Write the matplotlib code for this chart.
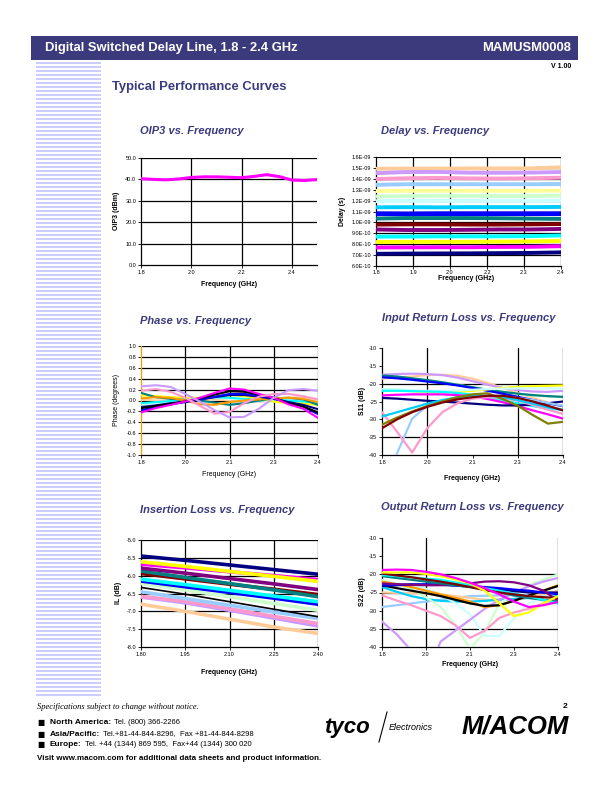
import matplotlib
matplotlib.use("Agg")
import matplotlib.pyplot as plt
from matplotlib.patches import Rectangle
from matplotlib.lines import Line2D
from matplotlib.ticker import FuncFormatter

plt.rcParams['font.family'] = ['Liberation Sans', 'DejaVu Sans']

# Excel default series colours
NAVY, MAGENTA, YELLOW, CYAN = '#000080', '#ff00ff', '#ffff00', '#00ffff'
PURPLE, DKRED, TEAL, BLUE = '#800080', '#800000', '#008080', '#0000ff'
SKY, LCYAN, LGREEN, LYELLOW = '#00ccff', '#ccffff', '#ccffcc', '#ffff99'
LBLUE, PINK, LAV, PEACH = '#99ccff', '#ff99cc', '#cc99ff', '#ffcc99'
BLACK, ORANGE, OLIVE = '#000000', '#ff9900', '#808000'

# ---------------- data ----------------
OIP3_FREQ = [1.8, 1.85, 1.9, 1.95, 2.0, 2.05, 2.1, 2.15, 2.2, 2.25, 2.3, 2.35, 2.4, 2.45, 2.5]
OIP3 = [40.3, 40.0, 39.8, 40.2, 40.9, 41.2, 41.2, 41.0, 40.8, 41.4, 42.2, 41.3, 39.7, 39.5, 39.9]

DELAY_FREQ = [1.8, 1.9, 2.0, 2.1, 2.2, 2.3, 2.4]
DELAY_NS = {
    PEACH:   [1.492, 1.494, 1.494, 1.495, 1.495, 1.496, 1.505],
    LAV:     [1.452, 1.462, 1.463, 1.456, 1.455, 1.457, 1.462],
    PINK:    [1.398, 1.405, 1.408, 1.404, 1.402, 1.405, 1.410],
    LBLUE:   [1.345, 1.350, 1.350, 1.350, 1.350, 1.350, 1.352],
    LYELLOW: [1.288, 1.290, 1.291, 1.290, 1.290, 1.290, 1.292],
    LGREEN:  [1.238, 1.242, 1.245, 1.243, 1.242, 1.242, 1.245],
    LCYAN:   [1.195, 1.198, 1.198, 1.198, 1.198, 1.198, 1.200],
    SKY:     [1.138, 1.140, 1.138, 1.140, 1.140, 1.140, 1.142],
    BLUE:    [1.080, 1.078, 1.080, 1.080, 1.080, 1.080, 1.080],
    TEAL:    [1.035, 1.040, 1.040, 1.040, 1.038, 1.035, 1.032],
    DKRED:   [0.980, 0.982, 0.982, 0.980, 0.980, 0.982, 0.985],
    PURPLE:  [0.935, 0.930, 0.930, 0.932, 0.935, 0.935, 0.940],
    CYAN:    [0.870, 0.870, 0.872, 0.872, 0.872, 0.874, 0.880],
    YELLOW:  [0.820, 0.822, 0.822, 0.822, 0.824, 0.826, 0.830],
    MAGENTA: [0.770, 0.771, 0.772, 0.772, 0.775, 0.776, 0.782],
    NAVY:    [0.712, 0.714, 0.715, 0.716, 0.718, 0.720, 0.725],
}

F13 = [1.8, 1.85, 1.9, 1.95, 2.0, 2.05, 2.1, 2.15, 2.2, 2.25, 2.3, 2.35, 2.4]

PHASE = {
    PEACH:   [0.02, 0.00, 0.00, 0.01, 0.02, 0.02, 0.00, -0.02, 0.00, 0.03, 0.05, 0.06, 0.02],
    LCYAN:   [-0.10, -0.07, -0.03, 0.02, 0.05, 0.05, 0.03, 0.02, 0.00, -0.02, 0.00, 0.02, -0.02],
    CYAN:    [-0.05, -0.03, -0.01, 0.03, 0.05, 0.06, 0.05, 0.03, 0.02, 0.02, 0.00, -0.02, -0.05],
    YELLOW:  [0.10, 0.08, 0.06, 0.05, 0.05, 0.08, 0.10, 0.08, 0.03, -0.02, -0.05, -0.06, -0.08],
    TEAL:    [0.14, 0.06, 0.03, 0.01, 0.00, -0.04, -0.08, -0.05, 0.00, 0.04, 0.05, 0.02, -0.08],
    ORANGE:  [0.04, 0.06, 0.05, 0.00, -0.07, -0.08, -0.03, 0.00, 0.02, 0.04, 0.05, 0.03, -0.03],
    NAVY:    [-0.12, -0.09, -0.05, -0.02, 0.02, 0.06, 0.10, 0.10, 0.07, 0.03, -0.03, -0.08, -0.16],
    BLUE:    [-0.18, -0.12, -0.07, -0.03, 0.02, 0.07, 0.12, 0.12, 0.08, 0.04, -0.04, -0.11, -0.25],
    BLACK:   [-0.14, -0.10, -0.06, -0.02, 0.04, 0.11, 0.17, 0.16, 0.11, 0.05, -0.05, -0.11, -0.22],
    MAGENTA: [-0.22, -0.14, -0.08, -0.02, 0.05, 0.14, 0.22, 0.20, 0.12, 0.05, -0.07, -0.15, -0.32],
    PINK:    [0.18, 0.21, 0.16, 0.05, -0.10, -0.24, -0.21, -0.05, 0.07, 0.12, 0.12, 0.08, 0.02],
    LAV:     [0.26, 0.28, 0.25, 0.12, -0.02, -0.18, -0.31, -0.30, -0.15, 0.05, 0.19, 0.21, 0.18],
}

S11 = {
    PEACH:   [-18.6, -18.3, -18.0, -17.6, -17.5, -17.8, -18.6, -19.8, -21.2, -22.6, -24.0, -25.3, -26.3],
    LAV:     [-17.5, -17.3, -17.2, -17.3, -17.6, -18.3, -19.3, -20.3, -21.2, -21.8, -22.2, -22.3, -22.0],
    LGREEN:  [-18.0, -18.2, -18.6, -19.0, -19.6, -20.3, -21.0, -21.7, -22.3, -22.9, -23.3, -23.6, -23.8],
    TEAL:    [-17.7, -18.0, -18.5, -19.0, -19.6, -20.3, -21.0, -21.7, -22.3, -22.8, -23.2, -23.5, -23.7],
    BLUE:    [-18.2, -18.5, -18.9, -19.4, -19.9, -20.5, -21.2, -22.0, -22.8, -23.7, -24.6, -25.5, -26.3],
    YELLOW:  [-21.8, -21.9, -22.1, -22.3, -22.4, -22.3, -22.0, -21.6, -21.2, -20.9, -20.7, -20.6, -20.5],
    LCYAN:   [-21.5, -21.6, -21.8, -22.0, -22.0, -21.9, -21.7, -21.5, -21.4, -21.3, -21.3, -21.3, -21.4],
    CYAN:    [-22.0, -22.0, -22.1, -22.2, -22.3, -22.6, -23.1, -23.8, -24.6, -25.5, -26.3, -27.0, -27.4],
    MAGENTA: [-23.3, -23.1, -23.0, -23.0, -23.0, -23.2, -23.6, -24.3, -25.2, -26.3, -27.5, -28.6, -29.8],
    NAVY:    [-24.0, -24.2, -24.5, -24.8, -25.0, -25.3, -25.6, -25.9, -26.1, -26.1, -25.9, -25.5, -25.0],
    LBLUE:   [-48.0, -39.5, -29.8, -26.2, -24.8, -24.0, -23.6, -23.5, -23.6, -24.0, -24.6, -25.4, -26.2],
    PINK:    [-28.0, -33.5, -39.3, -32.5, -28.0, -25.5, -24.2, -23.8, -24.0, -24.8, -26.0, -27.3, -28.5],
    SKY:     [-29.2, -28.0, -26.8, -25.6, -24.6, -23.8, -23.4, -23.4, -23.8, -24.6, -25.6, -26.6, -27.3],
    OLIVE:   [-31.5, -29.5, -27.8, -26.3, -25.0, -23.8, -23.0, -22.7, -24.3, -26.2, -28.8, -31.2, -30.7],
    DKRED:   [-32.5, -30.0, -28.0, -26.5, -25.3, -24.4, -23.8, -23.4, -23.4, -24.0, -25.0, -26.2, -27.5],
}

IL_FREQ = [1.8, 1.95, 2.1, 2.25, 2.4]
IL = {
    PEACH:   [-6.80, -7.00, -7.22, -7.44, -7.62],
    LAV:     [-6.60, -6.76, -6.97, -7.19, -7.41],
    PINK:    [-6.58, -6.72, -6.93, -7.14, -7.34],
    LBLUE:   [-6.45, -6.64, -6.83, -7.02, -7.20],
    BLACK:   [-6.33, -6.52, -6.73, -6.94, -7.15],
    LGREEN:  [-6.22, -6.40, -6.59, -6.78, -6.97],
    BLUE:    [-6.15, -6.31, -6.47, -6.63, -6.80],
    CYAN:    [-6.10, -6.25, -6.41, -6.57, -6.73],
    DKRED:   [-5.94, -6.09, -6.24, -6.38, -6.53],
    TEAL:    [-5.87, -6.05, -6.22, -6.40, -6.59],
    PURPLE:  [-5.79, -5.93, -6.08, -6.23, -6.39],
    MAGENTA: [-5.68, -5.78, -5.89, -6.00, -6.11],
    YELLOW:  [-5.61, -5.74, -5.88, -6.02, -6.16],
    NAVY:    [-5.45, -5.57, -5.70, -5.83, -5.96],
}

S22 = {
    LBLUE:   [-29.0, -28.5, -28.0, -27.5, -27.0, -26.5, -26.0, -25.9, -25.8, -26.0, -26.5, -27.2, -28.0],
    PEACH:   [-25.0, -25.1, -25.2, -25.3, -25.5, -26.0, -26.5, -27.0, -27.0, -26.8, -26.5, -25.5, -24.5],
    SKY:     [-23.5, -24.8, -26.0, -26.8, -27.3, -27.5, -27.5, -27.3, -27.0, -26.8, -26.5, -26.2, -26.0],
    LGREEN:  [-21.5, -22.7, -24.0, -26.3, -29.0, -34.0, -40.5, -36.0, -28.0, -25.5, -23.0, -21.5, -20.0],
    LCYAN:   [-22.0, -22.5, -23.0, -24.0, -25.5, -28.0, -31.0, -37.0, -37.0, -32.0, -28.0, -26.5, -25.0],
    PINK:    [-25.8, -27.2, -28.5, -30.0, -31.5, -34.0, -37.5, -35.5, -32.0, -30.5, -29.5, -28.0, -26.5],
    LAV:     [-33.0, -36.5, -41.0, -48.0, -38.5, -35.5, -32.5, -29.5, -27.0, -25.0, -23.3, -22.0, -21.0],
    ORANGE:  [-22.0, -22.7, -23.5, -24.5, -25.5, -26.5, -27.5, -29.0, -28.5, -27.3, -26.0, -24.5, -23.0],
    BLACK:   [-23.0, -23.8, -24.5, -25.2, -26.0, -27.0, -28.0, -28.7, -28.5, -27.3, -25.8, -24.5, -23.2],
    NAVY:    [-23.2, -23.0, -22.8, -22.8, -22.9, -23.1, -23.4, -23.8, -24.2, -24.6, -25.0, -25.0, -25.0],
    BLUE:    [-23.0, -22.9, -22.8, -22.8, -22.8, -23.0, -23.2, -23.5, -23.8, -24.2, -24.5, -25.0, -25.5],
    PURPLE:  [-22.5, -22.7, -22.9, -23.0, -23.0, -22.8, -22.5, -22.0, -21.9, -22.2, -23.0, -24.5, -27.2],
    TEAL:    [-20.5, -21.0, -21.5, -22.0, -22.5, -23.0, -23.5, -24.2, -25.0, -25.8, -26.5, -27.0, -27.5],
    CYAN:    [-20.2, -20.5, -20.8, -21.2, -21.5, -22.2, -23.0, -23.8, -24.5, -25.3, -26.0, -27.0, -28.0],
    DKRED:   [-19.8, -20.3, -20.8, -21.4, -22.0, -22.7, -23.5, -24.3, -25.0, -25.5, -26.0, -26.3, -26.5],
    YELLOW:  [-19.5, -19.5, -19.5, -19.9, -20.5, -21.4, -22.5, -24.5, -28.0, -31.5, -30.5, -28.0, -26.0],
    MAGENTA: [-18.8, -18.7, -18.8, -19.3, -20.0, -21.0, -22.3, -23.8, -25.5, -27.5, -29.0, -28.5, -27.6],
}

RL_XTICKS = [1.8, 1.95, 2.1, 2.25, 2.4]
RL_XLABELS = ['1.8', '2.0', '2.1', '2.3', '2.4']
IL_XLABELS = ['1.80', '1.95', '2.10', '2.25', '2.40']
DELAY_XTICKS = [1.8, 1.92, 2.04, 2.16, 2.28, 2.4]
DELAY_XLABELS = ['1.8', '1.9', '2.0', '2.2', '2.3', '2.4']

# ---------------- page ----------------
W, H = 612, 792
TITLE_C = '#3b3a7c'
fig = plt.figure(figsize=(W / 100, H / 100), dpi=100)


def txt(x, y, s, **kw):
    kw.setdefault('va', 'center')
    return fig.text(x / W, 1 - y / H, s, **kw)


def box(x, y, w, h, color):
    fig.patches.append(Rectangle((x / W, 1 - (y + h) / H), w / W, h / H,
                                 transform=fig.transFigure, color=color, lw=0))


def ax_at(l, t, r, b):
    return fig.add_axes([l / W, 1 - b / H, (r - l) / W, (b - t) / H])


def style(ax, xlim, xticks, xlabels, ylim, yticks, yfmt, vgrid, hgrid):
    ax.set_xlim(*xlim)
    ax.set_ylim(*ylim)
    ax.set_xticks(xticks)
    ax.set_xticklabels(xlabels)
    ax.set_yticks(yticks)
    ax.yaxis.set_major_formatter(FuncFormatter(yfmt))
    ax.tick_params(labelsize=4, length=2, width=0.6, pad=1.5, direction='out')
    for s in ['top', 'right']:
        ax.spines[s].set_visible(False)
    for s in ['left', 'bottom']:
        ax.spines[s].set_linewidth(0.9)
    for v in vgrid:
        ax.axvline(v, color='black', lw=0.9, zorder=1)
    for h in hgrid:
        ax.axhline(h, color='black', lw=0.9, zorder=1)
    ax.set_facecolor('white')


# header
box(31, 36, 547, 24, '#3b3a7c')
txt(45, 48, 'Digital Switched Delay Line, 1.8 - 2.4 GHz', color='white',
    fontsize=9.4, fontweight='bold')
txt(571, 48, 'MAMUSM0008', color='white', fontsize=9.4, fontweight='bold', ha='right')
txt(571, 67, 'V 1.00', fontsize=5, fontweight='bold', ha='right')
txt(112, 87, 'Typical Performance Curves', color=TITLE_C, fontsize=9.4, fontweight='bold')

# left stripes
for y in range(62, 697, 4):
    box(36, y, 65, 2, '#ccccff')

f1 = lambda v, p: '%.1f' % v
f0 = lambda v, p: '%d' % v

# OIP3
ax = ax_at(141, 158, 317, 265)
style(ax, (1.8, 2.5), [1.8, 2.0, 2.2, 2.4], ['1.8', '2.0', '2.2', '2.4'],
      (0, 50), [0, 10, 20, 30, 40, 50], f1, [2.0, 2.2, 2.4], [10, 20, 30, 40, 50])
ax.plot(OIP3_FREQ, OIP3, color=MAGENTA, lw=2.2, zorder=3)
txt(192, 131, 'OIP3 vs. Frequency', color=TITLE_C, fontsize=8, fontweight='bold',
    style='italic', ha='center')
txt(229, 284, 'Frequency (GHz)', fontsize=5, fontweight='bold', ha='center')
txt(117, 211, 'OIP3 (dBm)', fontsize=5, fontweight='bold', ha='center', rotation=90)

# Delay
ax = ax_at(376, 157, 561, 266)
style(ax, (1.8, 2.4), DELAY_XTICKS, DELAY_XLABELS, (6e-10, 1.6e-9),
      [v * 1e-10 for v in range(6, 17)], lambda v, p: '%.1E' % v,
      DELAY_XTICKS[1:], [v * 1e-10 for v in range(7, 17)])
for c, ys in DELAY_NS.items():
    ax.plot(DELAY_FREQ, [y * 1e-9 for y in ys], color=c, lw=3.4 if c == BLUE else 2.8, zorder=3)
ax.tick_params(axis='x', pad=1)
txt(435, 131, 'Delay vs. Frequency', color=TITLE_C, fontsize=8, fontweight='bold',
    style='italic', ha='center')
txt(466, 279, 'Frequency (GHz)', fontsize=5, fontweight='bold', ha='center')
txt(342, 211, 'Delay (s)', fontsize=5, fontweight='bold', ha='center', rotation=90)

# Phase
ax = ax_at(141, 346, 318, 455)
style(ax, (1.8, 2.4), RL_XTICKS, RL_XLABELS, (-1, 1),
      [v / 10 for v in range(-10, 11, 2)], f1, RL_XTICKS[1:], [v / 10 for v in range(-8, 11, 2)])
ax.spines['left'].set_color(ORANGE)
for c, ys in PHASE.items():
    ax.plot(F13, ys, color=c, lw=1.5, zorder=3)
txt(196, 321, 'Phase vs. Frequency', color=TITLE_C, fontsize=8, fontweight='bold',
    style='italic', ha='center')
txt(229, 475, 'Frequency (GHz)', fontsize=5, ha='center')
txt(117, 400, 'Phase (degrees)', fontsize=5, ha='center', rotation=90)

# Input return loss
ax = ax_at(382, 348, 563, 455)
style(ax, (1.8, 2.4), RL_XTICKS, RL_XLABELS, (-40, -10), list(range(-40, -9, 5)), f0,
      [1.95, 2.25, 2.4], [-20, -35])
for c, ys in S11.items():
    ax.plot(F13, ys, color=c, lw=1.6, zorder=3)
txt(469, 318, 'Input Return Loss vs. Frequency', color=TITLE_C, fontsize=8,
    fontweight='bold', style='italic', ha='center')
txt(472, 479, 'Frequency (GHz)', fontsize=5, fontweight='bold', ha='center')
txt(362, 401, 'S11 (dB)', fontsize=5, fontweight='bold', ha='center', rotation=90)

# Insertion loss
ax = ax_at(141, 540, 318, 647)
style(ax, (1.8, 2.4), RL_XTICKS, IL_XLABELS, (-8, -5),
      [v / 2 for v in range(-16, -9)], f1, RL_XTICKS[1:], [v / 2 for v in range(-15, -9)])
for c, ys in IL.items():
    ax.plot(IL_FREQ, ys, color=c, lw=1.2 if c == BLACK else 2.6, zorder=3)
txt(217, 510, 'Insertion Loss vs. Frequency', color=TITLE_C, fontsize=8,
    fontweight='bold', style='italic', ha='center')
txt(229, 672, 'Frequency (GHz)', fontsize=5, fontweight='bold', ha='center')
txt(118, 593, 'IL (dB)', fontsize=5, fontweight='bold', ha='center', rotation=90)

# Output return loss
ax = ax_at(382, 538, 558, 647)
style(ax, (1.8, 2.4), RL_XTICKS, RL_XLABELS, (-40, -10), list(range(-40, -9, 5)), f0,
      [1.95, 2.4], [-20, -35])
ax.plot([1.8, 1.95], [-25, -25], color='black', lw=0.9, zorder=1)
for c, ys in S22.items():
    ax.plot(F13, ys, color=c, lw=1.6, zorder=3)
txt(472, 507, 'Output Return Loss vs. Frequency', color=TITLE_C, fontsize=8,
    fontweight='bold', style='italic', ha='center')
txt(470, 665, 'Frequency (GHz)', fontsize=5, fontweight='bold', ha='center')
txt(362, 592, 'S22 (dB)', fontsize=5, fontweight='bold', ha='center', rotation=90)

# footer
txt(37, 707, 'Specifications subject to change without notice.', fontsize=6.1,
    family=['Liberation Serif'], style='italic')
txt(567, 706, '2', fontsize=6, fontweight='bold', ha='right')
rows = [(722, 'North America:', 'Tel. (800) 366-2266'),
        (734, 'Asia/Pacific:', 'Tel.+81-44-844-8296,  Fax +81-44-844-8298'),
        (745, 'Europe:', 'Tel. +44 (1344) 869 595,  Fax+44 (1344) 300 020')]
for y, head, rest in rows:
    txt(37, y, '\u25a0', fontsize=5.5, family=['DejaVu Sans'])
    t = txt(50, y, head, fontsize=6, fontweight='bold')
    fig.canvas.draw()
    bb = t.get_window_extent()
    fig.text(bb.x1 / W + 3 / W, 1 - y / H, rest, fontsize=5.5, va='center')
txt(37, 758, 'Visit www.macom.com for additional data sheets and product information.',
    fontsize=5.8, fontweight='bold')

# logos as text
txt(347, 727, 'tyco', fontsize=16, fontweight='bold', style='italic', ha='center')
fig.lines.append(Line2D([379 / W, 387 / W], [1 - 742 / H, 1 - 712 / H],
                        transform=fig.transFigure, color='black', lw=0.8))
txt(389, 727, 'Electronics', fontsize=6.5, style='italic')
txt(515, 726, 'M/ACOM', fontsize=18.5, fontweight='bold', style='italic', ha='center')

fig.savefig('out.png', dpi=100)
